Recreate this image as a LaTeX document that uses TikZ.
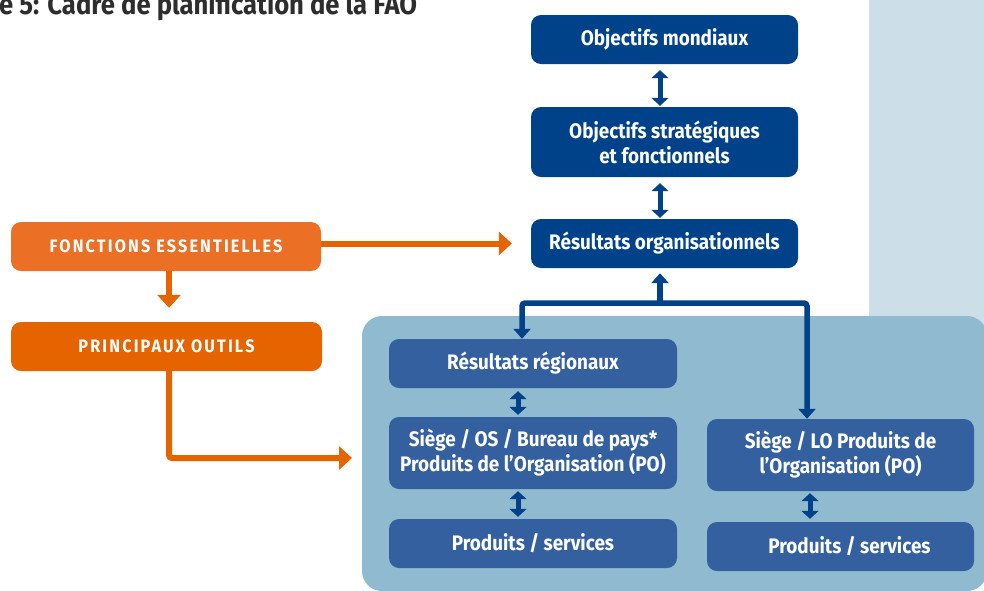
\documentclass[tikz,border=0pt]{standalone}
\usepackage{fontspec}
\setmainfont{Fira Sans}[FakeStretch=0.9]
\newfontfamily\capsfont{Fira Sans}[FakeStretch=0.9,LetterSpace=12]
\usetikzlibrary{arrows.meta,calc}
\definecolor{darkblue}{HTML}{00428A}
\definecolor{midblue}{HTML}{3560A0}
\definecolor{panelblue}{HTML}{8FBAD0}
\definecolor{lightpanel}{HTML}{CCDFE8}
\definecolor{orangeA}{HTML}{EC6F26}
\definecolor{orangeB}{HTML}{E56400}
\definecolor{titlegray}{HTML}{2D2D2D}
\tikzset{
  box/.style={rounded corners=10pt, inner sep=0pt, text=white, align=center,
    font=\fontsize{21}{25}\selectfont\bfseries},
  topbox/.style={box, fill=darkblue},
  subbox/.style={box, fill=midblue},
  orbox/.style={rounded corners=10pt, inner sep=0pt, text=white,
    font=\capsfont\fontsize{18}{20}\selectfont\bfseries},
  dblarrow/.style={draw=darkblue, line width=5pt,
    {Triangle[width=17pt,length=8pt]}-{Triangle[width=17pt,length=8pt]}},
  blueline/.style={draw=darkblue, line width=5.5pt},
  bluetip/.style={-{Triangle[width=17pt,length=10pt]}},
  orarrow/.style={draw=orangeB, line width=6pt, -{Triangle[width=23pt,length=13pt]}},
}
\begin{document}
\begin{tikzpicture}[x=1pt,y=-1pt]
\useasboundingbox (0,0) rectangle (984,590);
% background panels
\fill[lightpanel] (869,-5) rectangle (995,330);
\fill[panelblue, rounded corners=20pt] (362,316) rectangle (987,591);
% title (cut at the top edge, as in the reference)
\node[anchor=base west, inner sep=0pt, text=titlegray,
  font=\fontsize{28.5}{30}\selectfont\bfseries] (title) at (-1,14)
  {e 5: Cadre de planification de la FAO};
% top column
\node[topbox, minimum width=267pt, minimum height=49pt] (om) at (664.5,39.5) {Objectifs mondiaux};
\node[topbox, minimum width=267pt, minimum height=70pt] (os) at (664.5,142) {Objectifs stratégiques\\et fonctionnels};
\node[topbox, minimum width=267pt, minimum height=49pt] (ro) at (664.5,243.5) {Résultats organisationnels};
% orange boxes
\node[orbox, fill=orangeA, minimum width=310pt, minimum height=49pt] (fe) at (166,246.5) {FONCTIONS ESSENTIELLES};
\node[orbox, fill=orangeB, minimum width=311pt, minimum height=49pt] (po) at (166.5,346.5) {PRINCIPAUX OUTILS};
% sub boxes
\node[subbox, minimum width=288pt, minimum height=49pt] (rr) at (533,363.5) {Résultats régionaux};
\node[subbox, minimum width=288pt, minimum height=72pt] (so) at (533,453) {Siège / OS / Bureau de pays*\\Produits de l’Organisation (PO)};
\node[subbox, minimum width=288pt, minimum height=49pt] (pl) at (533,543.5) {Produits / services};
\node[subbox, minimum width=267pt, minimum height=72pt] (sl) at (840.5,455) {Siège / LO Produits de\\l’Organisation (PO)};
\node[subbox, minimum width=267pt, minimum height=49pt] (pr) at (840.5,546.5) {\hspace*{18pt}Produits / services};
% column coordinates
\coordinate (cx) at (660,0);
\coordinate (lx) at (518,0);
\coordinate (rx) at (810,0);
\coordinate (bj) at (660,303);
\coordinate (bl) at (522,303);
\coordinate (br) at (807,303);
\coordinate (ox) at (169,0);
\coordinate (ot) at (352,458);
% blue double arrows
\draw[dblarrow, shorten <=6pt, shorten >=1pt] (om.south -| cx) -- (os.north -| cx);
\draw[dblarrow, shorten <=6pt, shorten >=1pt] (os.south -| cx) -- (ro.north -| cx);
\draw[dblarrow, shorten <=3pt, shorten >=2pt] (rr.south -| lx) -- (so.north -| lx);
\draw[dblarrow, shorten <=2pt, shorten >=2pt] (so.south -| lx) -- (pl.north -| lx);
\draw[dblarrow, shorten <=2pt, shorten >=3pt] (sl.south -| rx) -- (pr.north -| rx);
% branch
\draw[blueline, bluetip] (bj) -- ($(ro.south -| bj)+(0,5)$);
\draw[blueline, rounded corners=3pt, {Triangle[width=17pt,length=10pt]}-{Triangle[width=17pt,length=10pt]}]
  (rr.north -| bl) -- (bl) -- (br) -- (sl.north -| br);
% orange arrows
\draw[orarrow] (fe.east |- ro.west) -- ($(ro.west)+(-19,0)$);
\draw[orarrow] (fe.south -| ox) -- ($(po.north -| ox)+(0,-14)$);
\draw[orarrow, rounded corners=3pt] (po.south -| ox) |- (ot);
\end{tikzpicture}
\end{document}
